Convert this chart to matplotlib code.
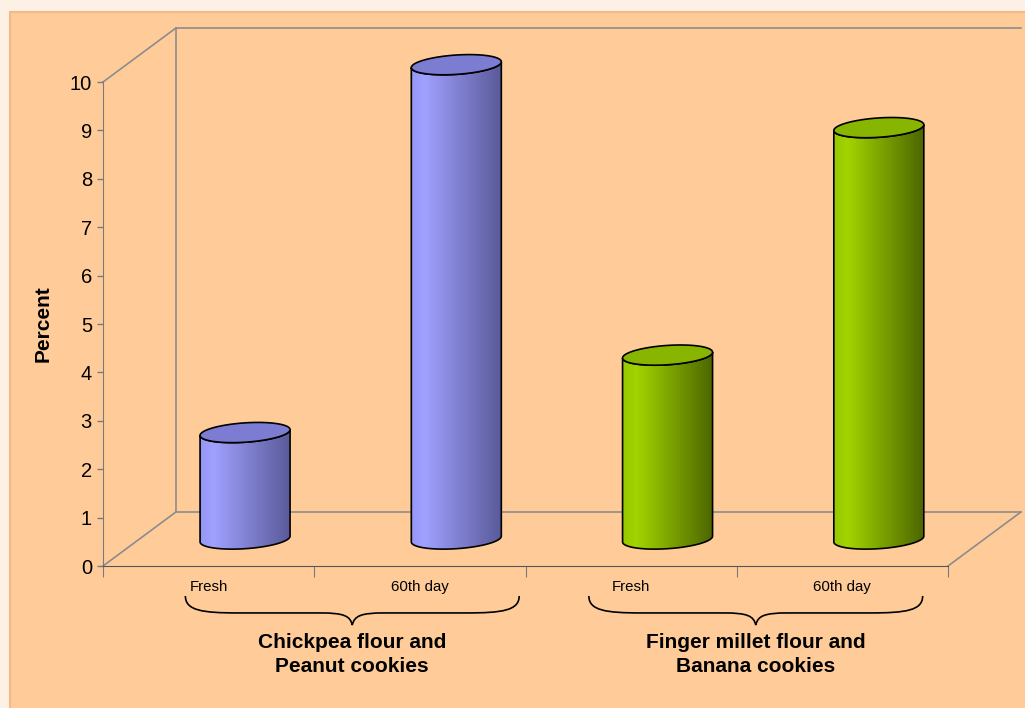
import numpy as np
import matplotlib.pyplot as plt
from matplotlib.patches import Rectangle, PathPatch
from matplotlib.path import Path
from matplotlib.colors import to_rgb

plt.rcParams['font.family'] = ['Liberation Sans', 'DejaVu Sans']

# data
categories = ["Fresh", "60th day", "Fresh", "60th day"]
values = [2.2, 9.8, 3.8, 8.5]
groups = ["Chickpea flour and\nPeanut cookies", "Finger millet flour and\nBanana cookies"]
group_of_bar = [0, 0, 1, 1]

# body gradient stops (left -> right) and top colour for each group
body_stops = [
    [(0.0, "#9696F6"), (0.15, "#A0A0FF"), (1.0, "#5A5A9A")],
    [(0.0, "#96C800"), (0.15, "#A2D400"), (1.0, "#4C6600")],
]
top_colors = ["#7C7CD2", "#88B600"]

# pseudo-3d depth offset, in data units
DX, DY = 0.345, 1.115
RAD_X, RAD_Y, TILT = 0.213, 0.2, 0.06

fig = plt.figure(figsize=(10.25, 7.08), dpi=100)
fig.patch.set_facecolor("#FDF1E6")
fig.add_artist(Rectangle((10 / 1025, -0.01), 1.0, (708 - 12) / 708 + 0.01,
                         transform=fig.transFigure, facecolor="#FFCC99",
                         edgecolor="#F3B987", lw=1.5, zorder=0))

ax = fig.add_axes([103 / 1025, (708 - 566) / 708, (948 - 103) / 1025, (566 - 82) / 708])
ax.set_facecolor("none")
xmin, xmax, ymax = -0.5, len(values) - 0.5, 10

wall = dict(color="#8C8C8C", lw=1.2, clip_on=False, zorder=1)
ax.plot([xmin + DX, xmin + DX], [DY, ymax + DY], **wall)
ax.plot([xmin + DX, xmax + DX], [ymax + DY, ymax + DY], **wall)
ax.plot([xmin + DX, xmax + DX], [DY, DY], **wall)
ax.plot([xmin, xmin + DX], [ymax, ymax + DY], **wall)
ax.plot([xmin, xmin + DX], [0, DY], **wall)
ax.plot([xmax, xmax + DX], [0, DY], **wall)


def ellipse_pts(xc, yc, t):
    return xc + RAD_X * np.cos(t), yc + RAD_Y * np.sin(t) + TILT * np.cos(t)


def gradient_img(stops, n=256):
    pos = [s[0] for s in stops]
    cols = np.array([to_rgb(s[1]) for s in stops])
    xs = np.linspace(0, 1, n)
    img = np.stack([np.interp(xs, pos, cols[:, k]) for k in range(3)], axis=-1)
    return img[np.newaxis, :, :]


for i, (v, g) in enumerate(zip(values, group_of_bar)):
    xc = i + DX / 2
    y0 = DY / 2
    y1 = v + DY / 2
    t_low = np.linspace(np.pi, 2 * np.pi, 80)
    bx, by = ellipse_pts(xc, y0, t_low)
    tx, ty = ellipse_pts(xc, y1, t_low[::-1])
    verts = np.column_stack([np.concatenate([bx, tx]), np.concatenate([by, ty])])
    verts = np.vstack([verts, verts[:1]])
    body = Path(verts, closed=True)
    outline = PathPatch(body, facecolor="none", edgecolor="black", lw=1.2,
                        zorder=3, clip_on=False)
    ax.add_patch(outline)
    im = ax.imshow(gradient_img(body_stops[g]), aspect="auto", zorder=2,
                   extent=(xc - RAD_X, xc + RAD_X, y0 - 1, y1 + 1),
                   interpolation="bilinear")
    im.set_clip_box(fig.bbox)
    im.set_clip_path(PathPatch(body, transform=ax.transData))

    t_all = np.linspace(0, 2 * np.pi, 160)
    ex, ey = ellipse_pts(xc, y1, t_all)
    ax.fill(ex, ey, facecolor=top_colors[g], edgecolor="black", lw=1.2,
            zorder=4, clip_on=False)

ax.set_xlim(xmin, xmax)
ax.set_ylim(0, ymax)

# axes, ticks and labels
for side in ["top", "right"]:
    ax.spines[side].set_visible(False)
ax.spines["left"].set_color("#7A7A7A")
ax.spines["bottom"].set_color("#555555")
ax.spines["left"].set_zorder(1)
ax.set_yticks(range(0, 11))
ax.tick_params(axis="y", direction="out", length=4.5, width=1, color="#7A7A7A",
               labelsize=14.5, pad=3.5)
ax.set_xticks(np.arange(xmin, xmax + 0.5, 1.0))
ax.set_xticklabels([])
ax.set_xticks(range(len(categories)), categories, minor=True)
ax.tick_params(axis="x", which="major", direction="out", length=8, color="#7A7A7A")
ax.tick_params(axis="x", which="minor", length=0, labelsize=10.8, pad=10)
ax.set_ylabel("Percent", fontsize=15, fontweight="bold", labelpad=12)

# group braces with their labels
half = 0.79
top, mid, tip = -0.62, -0.97, -1.22
codes = [Path.MOVETO,
         Path.CURVE4, Path.CURVE4, Path.CURVE4,
         Path.LINETO,
         Path.CURVE4, Path.CURVE4, Path.CURVE4,
         Path.CURVE4, Path.CURVE4, Path.CURVE4,
         Path.LINETO,
         Path.CURVE4, Path.CURVE4, Path.CURVE4]
for k, name in enumerate(groups):
    gc = 2 * k + 0.5 + (0.18 if k == 0 else 0.09)
    L, R = gc - half, gc + half
    bverts = [
        (L, top),
        (L, mid + 0.05), (L + 0.08, mid), (L + 0.25, mid),
        (gc - 0.15, mid),
        (gc - 0.04, mid), (gc - 0.01, mid - 0.06), (gc, tip),
        (gc + 0.01, mid - 0.06), (gc + 0.04, mid), (gc + 0.15, mid),
        (R - 0.25, mid),
        (R - 0.08, mid), (R, mid + 0.05), (R, top),
    ]
    ax.add_patch(PathPatch(Path(bverts, codes), facecolor="none", edgecolor="black",
                           lw=1.2, clip_on=False))
    ax.text(gc, -1.38, name, ha="center", va="top", fontsize=15, fontweight="bold",
            linespacing=1.35)

fig.savefig("out.png", dpi=100, facecolor=fig.get_facecolor())
